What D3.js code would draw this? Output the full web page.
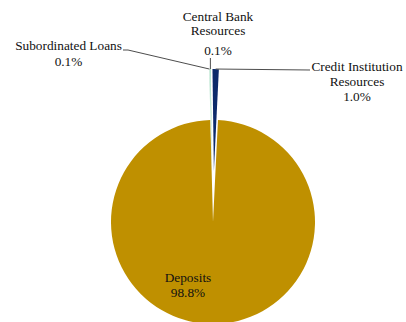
<!DOCTYPE html>
<html>
<head>
<meta charset="utf-8">
<script src="https://cdn.jsdelivr.net/npm/d3@7"></script>
<style>
  html, body { margin: 0; padding: 0; background: #fff; }
  svg { display: block; }
</style>
</head>
<body>
<svg id="chart" width="406" height="322"></svg>
<script>
// Funding structure, share of total (%)
const categories = ["Deposits", "Subordinated Loans", "Central Bank Resources", "Credit Institution Resources"];
const shares = [98.8, 0.1, 0.1, 1.0];
const sliceColors = ["#bf9000", "#b9e4cf", "#86d6b2", "#0c2a6a"];

const width = 406, height = 322;
const cx = 213, cy = 222, radius = 102;
const explode = 51;            // pull-out distance of the small slices
const deg = Math.PI / 180;
const start = 2.8 * deg;

const svg = d3.select("#chart");
const pct = d => d3.format(".1f")(d) + "%";

const pie = d3.pie().sort(null).value(d => d.value)
  .startAngle(start).endAngle(start + 2 * Math.PI);
const arc = d3.arc().innerRadius(0).outerRadius(radius);

const data = categories.map((c, i) => ({ name: c, value: shares[i], color: sliceColors[i], idx: i }));
const arcs = pie(data);

// offset of each slice's centre (first slice stays in place)
function offsetOf(a) {
  if (a.data.idx === 0) return [0, 0];
  const mid = (a.startAngle + a.endAngle) / 2;
  return [explode * Math.sin(mid), -explode * Math.cos(mid)];
}
// point on the outer rim of a slice at its mid angle
function rimPoint(a) {
  const [ox, oy] = offsetOf(a);
  const mid = (a.startAngle + a.endAngle) / 2;
  return [cx + ox + radius * Math.sin(mid), cy + oy - radius * Math.cos(mid)];
}

svg.append("g").selectAll("path").data(arcs).join("path")
  .attr("transform", a => { const [ox, oy] = offsetOf(a); return `translate(${cx + ox},${cy + oy})`; })
  .attr("d", arc)
  .attr("fill", a => a.data.color);

// label layout
const labelLayout = {
  "Deposits":                     { x: 188, lines: ["Deposits"], base: [281.5], pctBase: 297 },
  "Subordinated Loans":           { x: 68.5, lines: ["Subordinated Loans"], base: [49.5], pctBase: 66,
                                    leader: [[123, 50], [128, 50]] },
  "Central Bank Resources":       { x: 218, lines: ["Central Bank", "Resources"], base: [21, 35], pctBase: 55,
                                    leader: "vertical", leaderTop: 58 },
  "Credit Institution Resources": { x: 357, lines: ["Credit Institution", "Resources"], base: [70.5, 86], pctBase: 101,
                                    leader: [[310, 70]] }
};

const labels = svg.append("g")
  .attr("font-family", "'Liberation Serif', Tinos, 'Times New Roman', 'DejaVu Serif', serif")
  .attr("font-size", "13.3px")
  .attr("fill", "#111");
const leaders = svg.append("g").attr("fill", "none").attr("stroke", "#4d4d4d").attr("stroke-width", 1);

arcs.forEach(a => {
  const L = labelLayout[a.data.name];
  const t = labels.append("text").attr("text-anchor", "middle");
  L.lines.forEach((ln, i) => t.append("tspan").attr("x", L.x).attr("y", L.base[i]).text(ln));
  t.append("tspan").attr("x", L.x).attr("y", L.pctBase).text(pct(a.data.value));

  if (!L.leader) return;
  const p = rimPoint(a);
  let pts;
  if (L.leader === "vertical") pts = [[p[0], L.leaderTop], p];
  else pts = [...L.leader, p];
  leaders.append("path").attr("d", d3.line()(pts));
});
</script>
</body>
</html>
